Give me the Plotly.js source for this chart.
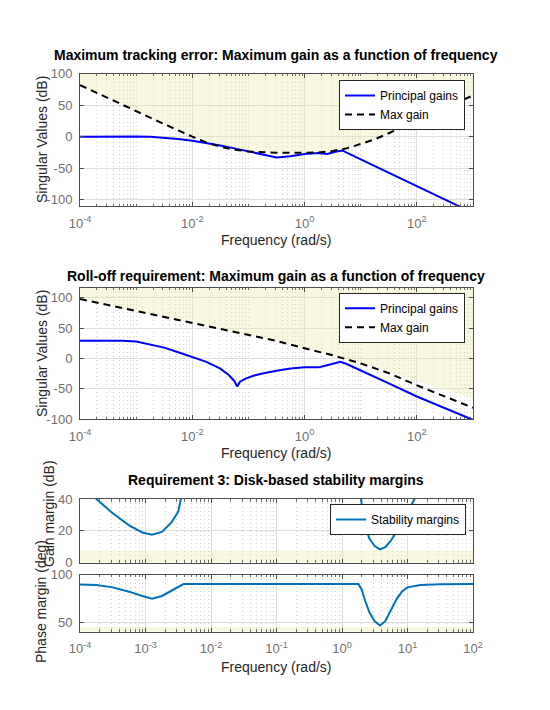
<!DOCTYPE html>
<html><head><meta charset="utf-8">
<script src="https://cdn.plot.ly/plotly-3.0.1.min.js"></script>
<style>html,body{margin:0;padding:0;background:#fff}#chart{width:550px;height:710px}</style>
</head><body><div id="chart"></div>
<script>
// ---------- DATA ----------
// Plot 1: Maximum tracking error
const trkFreq = [1e-4, 3.16e-4, 1e-3, 1.78e-3, 3.16e-3, 5.62e-3, 0.01, 0.0178, 0.0316, 0.0562, 0.1, 0.178, 0.316, 0.562, 1, 1.78, 2.51, 3.55, 4.68, 10, 31.6, 100, 316, 1000];
const trkGain = [0, 0.5, 0.5, 0, -1.5, -3.5, -6.5, -10, -14, -18.5, -23, -28, -33, -31, -27.5, -26, -27.5, -24, -21.8, -36, -57.5, -79, -100, -121];
const trkMaxFreq = [1e-4, 3.16e-4, 1e-3, 3.16e-3, 0.01, 0.0178, 0.0316, 0.0562, 0.1, 0.178, 0.316, 1, 1.78, 3.16, 5.62, 10, 17.8, 31.6, 56.2, 100, 316, 1000];
const trkMaxGain = [82, 61, 40.5, 20, 0, -9, -16, -20.5, -23.5, -25, -25.5, -25.5, -25, -22.5, -18.5, -11.5, -4, 5.5, 15, 25.5, 45.5, 65.5];

// Plot 2: Roll-off requirement
const rollFreq = [1e-4, 5.62e-4, 1e-3, 1.78e-3, 3.16e-3, 5.62e-3, 0.01, 0.0178, 0.0316, 0.0447, 0.0562, 0.0631, 0.0708, 0.0891, 0.126, 0.178, 0.316, 0.562, 1, 1.78, 2.51, 4.37, 5.62, 10, 31.6, 100, 316, 1000];
const rollGain = [29.5, 29.5, 28, 23.5, 18, 10.5, 2.5, -5.5, -16.5, -27, -37, -46, -38, -33, -28, -24.5, -20, -16.5, -14.5, -14.5, -11, -5.5, -9, -20, -41, -62.5, -82, -101];
const rollMaxFreq = [1e-4, 1e-3, 1e-2, 0.1, 0.316, 1, 3.16, 10, 31.6, 100, 316, 1000];
const rollMaxGain = [98, 78.5, 59, 39, 29, 17, 5.5, -8, -24, -44, -62.5, -81];
const rollShadeFreq = [1e-4, 1e-3, 1e-2, 0.1, 0.316, 1, 3.16, 10, 31.6, 100, 316, 1000];
const rollShadeGain = [98, 78.5, 59, 39, 29, 17, 5.5, -8, -22, -38, -52, -65];

// Plot 3: Disk-based stability margins
const gmFreq = [1.41e-4, 1.78e-4, 3.16e-4, 5.62e-4, 8.91e-4, 1.26e-3, 1.78e-3, 2.51e-3, 3.16e-3, 3.55e-3, 3.72e-3, null,
                1.86, 1.95, 2.09, 2.29, 2.63, 3.16, 3.80, 4.57, 5.50, 6.92, 8.32, 10, 12.0, 13.8, 14.5];
const gmVal = [44, 40, 31, 23.5, 19, 17.5, 19.3, 25.5, 32, 40, 46, null,
               44, 40, 31, 22, 15, 10.5, 8.4, 9.8, 13.5, 19.6, 25, 32, 37.5, 41.5, 44];
const pmFreq = [1e-4, 1.78e-4, 3.16e-4, 5.62e-4, 8.91e-4, 1.26e-3, 1.78e-3, 2.51e-3, 3.8e-3, 1.78, 2.0, 2.24, 2.63, 3.16, 3.8, 4.57, 5.5, 6.92, 8.32, 10, 15.8, 31.6, 100];
const pmVal = [89.5, 89, 86.5, 82, 77.5, 74.5, 77.5, 83, 90, 90, 84, 73, 60, 51, 46.5, 51, 61, 75, 82.5, 86.5, 89, 89.7, 90];
const gmRequired = 7.6;   // dB
const pmRequired = 45;    // deg

// Tick labels
const decTicks1 = [1e-4, 1e-2, 1, 100];
const decText1 = ['10<sup>-4</sup>', '10<sup>-2</sup>', '10<sup>0</sup>', '10<sup>2</sup>'];
const decTicks3 = [1e-4, 1e-3, 1e-2, 1e-1, 1, 10, 100];
const decText3 = ['10<sup>-4</sup>', '10<sup>-3</sup>', '10<sup>-2</sup>', '10<sup>-1</sup>', '10<sup>0</sup>', '10<sup>1</sup>', '10<sup>2</sup>'];
const yTicks1 = [-100, -50, 0, 50, 100];
const yText1 = ['-100', '-50', '0', '50', '100'];
const yTicksGm = [0, 20, 40];
const yTicksPm = [50, 100];

// ---------- STYLE ----------
const W = 550, H = 710;
const FONT = 'Liberation Sans, Arial, Helvetica, sans-serif';
const AXC = '#4d4d4d', TICKC = '#707070', TITC = '#262626';
const GRID = '#dedede', MGRID = '#cfcfcf';
const SHADE = 'rgba(235,235,160,0.33)';
const px = x => x / W, py = y => 1 - y / H;

function minorVals(d0, d1, skip) {
  const v = [];
  for (let d = d0; d < d1; d++) {
    for (let k = 1; k <= 9; k++) {
      const val = k * Math.pow(10, d);
      if (k === 1 && skip.some(s => Math.abs(s - val) / val < 1e-9)) continue;
      v.push(val);
    }
  }
  return v;
}

function xax(domainPx, anchor, r, tv, tt, showLabels, minor) {
  return {
    type: 'log', domain: [px(domainPx[0]), px(domainPx[1])], anchor: anchor, range: r,
    tickmode: 'array', tickvals: tv, ticktext: tt, showticklabels: showLabels, ticklabelstandoff: 5,
    ticks: 'inside', ticklen: 4, tickcolor: AXC, showline: true, linecolor: AXC, linewidth: 1, mirror: 'ticks',
    showgrid: true, gridcolor: GRID, gridwidth: 1, zeroline: false,
    tickfont: {family: FONT, size: 13, color: TICKC},
    minor: {tickmode: 'array', tickvals: minor, ticks: 'inside', ticklen: 2.5, tickcolor: AXC, tickwidth: 0.8,
            showgrid: true, gridcolor: MGRID, griddash: '1px,3px', gridwidth: 1},
    fixedrange: true
  };
}
function yax(domainPx, anchor, r, tv, tt) {
  return {
    domain: [py(domainPx[1]), py(domainPx[0])], anchor: anchor, range: r,
    tickmode: 'array', tickvals: tv, ticktext: tt, ticklabelstandoff: 4,
    ticks: 'inside', ticklen: 4, tickcolor: AXC, showline: true, linecolor: AXC, linewidth: 1, mirror: 'ticks',
    showgrid: true, gridcolor: GRID, gridwidth: 1, zeroline: false,
    tickfont: {family: FONT, size: 13, color: TICKC}, fixedrange: true
  };
}

const X1 = [80, 473], Y1 = [73.7, 206];
const Y2 = [287.5, 419.3];
const Y3 = [499, 562.7];
const Y4 = [574.5, 631.7];
const R1 = [-110, 100], R2 = [-100, 117], R3 = [0, 40], R4 = [40, 100];

function shadeAbove(f, g, top, xa, ya) {
  return {x: f.concat([f[f.length - 1], f[0]]), y: g.concat([top, top]), xaxis: xa, yaxis: ya,
          mode: 'lines', fill: 'toself', fillcolor: SHADE, line: {width: 0}, showlegend: false, hoverinfo: 'skip'};
}
function band(lo, hi, f0, f1, xa, ya) {
  return {x: [f0, f1, f1, f0], y: [lo, lo, hi, hi], xaxis: xa, yaxis: ya, mode: 'lines', fill: 'toself',
          fillcolor: SHADE, line: {width: 0}, showlegend: false, hoverinfo: 'skip'};
}

const BLUE = '#0000ff', MBLUE = '#0072bd';
const traces = [
  shadeAbove(trkMaxFreq, trkMaxGain, R1[1], 'x', 'y'),
  {x: trkFreq, y: trkGain, xaxis: 'x', yaxis: 'y', mode: 'lines', name: 'Principal gains', line: {color: BLUE, width: 2}, legend: 'legend'},
  {x: trkMaxFreq, y: trkMaxGain, xaxis: 'x', yaxis: 'y', mode: 'lines', name: 'Max gain', line: {color: '#000', width: 2, dash: '7px,5px'}, legend: 'legend'},

  shadeAbove(rollShadeFreq, rollShadeGain, R2[1], 'x2', 'y2'),
  {x: rollFreq, y: rollGain, xaxis: 'x2', yaxis: 'y2', mode: 'lines', name: 'Principal gains', line: {color: BLUE, width: 2}, legend: 'legend2'},
  {x: rollMaxFreq, y: rollMaxGain, xaxis: 'x2', yaxis: 'y2', mode: 'lines', name: 'Max gain', line: {color: '#000', width: 2, dash: '7px,5px'}, legend: 'legend2'},

  band(R3[0], gmRequired, 1e-4, 100, 'x3', 'y3'),
  {x: gmFreq, y: gmVal, xaxis: 'x3', yaxis: 'y3', mode: 'lines', name: 'Stability margins', connectgaps: false, line: {color: MBLUE, width: 2}, legend: 'legend3'},
  band(R4[0], pmRequired, 1e-4, 100, 'x4', 'y4'),
  {x: pmFreq, y: pmVal, xaxis: 'x4', yaxis: 'y4', mode: 'lines', name: 'Stability margins', line: {color: MBLUE, width: 2}, showlegend: false}
];

const minor1 = minorVals(-4, 3, decTicks1);
const minor3 = minorVals(-4, 2, decTicks3);

function ann(text, x, y, opts) {
  return Object.assign({text: text, x: px(x), y: py(y), xref: 'paper', yref: 'paper', showarrow: false,
    xanchor: 'center', yanchor: 'middle', font: {family: FONT, size: 14, color: TITC}}, opts || {});
}
const titleFont = {family: FONT, size: 14, color: '#000', weight: 'bold'};

function legendAt(x, y) {
  return {x: px(x), y: py(y), xref: 'paper', yref: 'paper', xanchor: 'left', yanchor: 'top',
          bgcolor: '#fff', bordercolor: '#262626', borderwidth: 1, font: {family: FONT, size: 12, color: '#000'},
          tracegroupgap: 0, itemwidth: 30};
}

const layout = {
  width: W, height: H, margin: {l: 0, r: 0, t: 0, b: 0}, paper_bgcolor: '#fff', plot_bgcolor: '#fff',
  showlegend: true,
  xaxis: xax(X1, 'y', [-4, 3], decTicks1, decText1, true, minor1),
  yaxis: yax(Y1, 'x', R1, yTicks1, yText1),
  xaxis2: xax(X1, 'y2', [-4, 3], decTicks1, decText1, true, minor1),
  yaxis2: yax(Y2, 'x2', R2, yTicks1, yText1),
  xaxis3: xax(X1, 'y3', [-4, 2], decTicks3, decText3, false, minor3),
  yaxis3: yax(Y3, 'x3', R3, yTicksGm, yTicksGm.map(String)),
  xaxis4: xax(X1, 'y4', [-4, 2], decTicks3, decText3, true, minor3),
  yaxis4: yax(Y4, 'x4', R4, yTicksPm, yTicksPm.map(String)),
  legend: legendAt(339, 80),
  legend2: legendAt(339, 292.7),
  legend3: legendAt(330, 504),
  annotations: [
    ann('Maximum tracking error: Maximum gain as a function of frequency', 276, 55, {font: titleFont}),
    ann('Roll-off requirement: Maximum gain as a function of frequency', 276, 276, {font: titleFont}),
    ann('Requirement 3: Disk-based stability margins', 276, 480, {font: titleFont}),
    ann('Frequency (rad/s)', 276, 240),
    ann('Frequency (rad/s)', 276, 453),
    ann('Frequency (rad/s)', 276, 667),
    ann('Singular Values (dB)', 42, 140, {textangle: -90}),
    ann('Singular Values (dB)', 42, 354, {textangle: -90}),
    ann('Gain margin (dB)', 49, 514, {textangle: -90}),
    ann('Phase margin (deg)', 41, 602, {textangle: -90})
  ]
};

Plotly.newPlot('chart', traces, layout, {staticPlot: true, displayModeBar: false});
</script>
</body></html>
